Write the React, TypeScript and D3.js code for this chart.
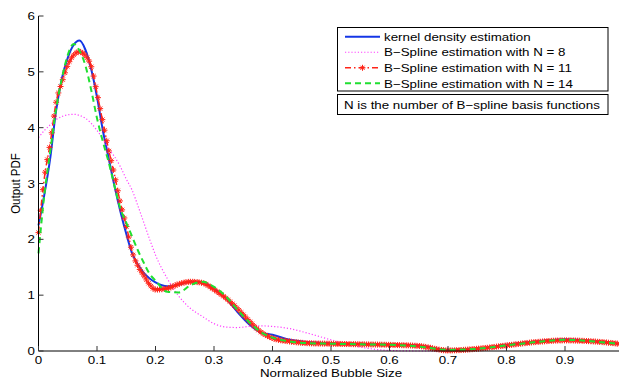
import { useEffect, useRef } from 'react';
import { select, scaleLinear, line, curveMonotoneX } from 'd3';

const xGrid = [0, 0.01, 0.02, 0.03, 0.04, 0.05, 0.06, 0.07, 0.08, 0.09, 0.1, 0.11, 0.12, 0.13, 0.14, 0.15, 0.16, 0.17, 0.18, 0.19, 0.2, 0.22, 0.24, 0.26, 0.28, 0.3, 0.32, 0.34, 0.36, 0.38, 0.4, 0.43, 0.46, 0.5, 0.55, 0.6, 0.65, 0.7, 0.75, 0.8, 0.85, 0.9, 0.95, 1.0];

const kde = [2.25, 2.8, 3.45, 4.3, 4.88, 5.25, 5.48, 5.56, 5.4, 5.05, 4.55, 3.95, 3.45, 2.95, 2.5, 2.1, 1.75, 1.55, 1.4, 1.3, 1.23, 1.16, 1.19, 1.24, 1.23, 1.12, 0.95, 0.7, 0.48, 0.33, 0.29, 0.2, 0.16, 0.14, 0.125, 0.115, 0.1, 0.02, 0.04, 0.11, 0.17, 0.21, 0.18, 0.12];
const spline8 = [3.82, 3.95, 4.05, 4.14, 4.2, 4.23, 4.24, 4.22, 4.17, 4.08, 3.95, 3.8, 3.62, 3.48, 3.3, 3.08, 2.88, 2.6, 2.3, 2.0, 1.72, 1.3, 0.98, 0.76, 0.62, 0.49, 0.43, 0.42, 0.44, 0.45, 0.44, 0.4, 0.32, 0.2, 0.07, 0.01, 0.0, 0.0, 0.03, 0.09, 0.15, 0.19, 0.16, 0.1];
const spline11 = [2.12, 3.1, 3.72, 4.45, 4.81, 5.12, 5.3, 5.36, 5.29, 5.1, 4.62, 4.1, 3.6, 3.15, 2.65, 2.25, 1.78, 1.52, 1.35, 1.19, 1.1, 1.12, 1.2, 1.24, 1.22, 1.1, 0.95, 0.76, 0.54, 0.34, 0.23, 0.17, 0.14, 0.13, 0.12, 0.11, 0.09, 0.01, 0.04, 0.1, 0.16, 0.19, 0.17, 0.12];
const spline14 = [1.75, 2.8, 3.57, 4.33, 4.88, 5.3, 5.5, 5.38, 5.12, 4.68, 4.17, 3.75, 3.38, 2.95, 2.55, 2.3, 2.05, 1.8, 1.58, 1.38, 1.26, 1.06, 1.05, 1.18, 1.24, 1.15, 0.98, 0.74, 0.52, 0.34, 0.24, 0.17, 0.14, 0.13, 0.12, 0.11, 0.08, 0.02, 0.04, 0.1, 0.16, 0.2, 0.17, 0.12];

const xTicks = [0, 0.1, 0.2, 0.3, 0.4, 0.5, 0.6, 0.7, 0.8, 0.9];
const yTicks = [0, 1, 2, 3, 4, 5, 6];
const legendLabels = [
  'kernel density estimation',
  'B\u2212Spline estimation with N = 8',
  'B\u2212Spline estimation with N = 11',
  'B\u2212Spline estimation with N = 14',
];
const noteText = 'N is the number of B\u2212spline basis functions';

const W = 619;
const H = 378;
const FONT = "'Liberation Sans', Arial, Helvetica, sans-serif";
const FS = 11.5;
const SX = 1.16; // glyphs in the reference are a bit wide

const styles = [
  { color: '#1436e6', width: 2, dash: null as string | null, marker: false },
  { color: '#ff40ff', width: 1.2, dash: '1.2 2', marker: false },
  { color: '#ff2418', width: 1.5, dash: '6 3 1.5 3', marker: true },
  { color: '#20e030', width: 2, dash: '6 4', marker: false },
];

export default function App() {
  const svgRef = useRef<SVGSVGElement>(null);

  useEffect(() => {
    if (!svgRef.current) return;
    const svg = select(svgRef.current);
    svg.selectAll('*').remove();

    const x = scaleLinear().domain([0, 1]).range([38.5, 623.5]);
    const y = scaleLinear().domain([0, 6]).range([351, 16]);

    const text = (
      g: any,
      tx: number,
      ty: number,
      s: string,
      anchor = 'start',
      rotate = false
    ) =>
      g.append('text')
        .attr('transform', rotate
          ? `translate(${tx},${ty}) rotate(-90) scale(1,${SX})`
          : `translate(${tx},${ty}) scale(${SX},1)`)
        .attr('text-anchor', anchor)
        .attr('font-family', FONT)
        .attr('font-size', FS)
        .attr('fill', '#000')
        .text(s);

    const series = [kde, spline8, spline11, spline14];
    const path = line<number>()
      .x((_, i) => x(xGrid[i]))
      .y((d) => y(d))
      .curve(curveMonotoneX);

    const plot = svg.append('g');
    series.forEach((vals, k) => {
      const st = styles[k];
      const p = plot.append('path')
        .datum(vals)
        .attr('fill', 'none')
        .attr('stroke', st.color)
        .attr('stroke-width', st.width)
        .attr('stroke-dasharray', st.dash)
        .attr('d', path);
      if (st.marker) {
        const node = p.node() as SVGPathElement;
        const total = node.getTotalLength();
        let nextX = x(0);
        const pts: [number, number][] = [];
        for (let l = 0; l <= total; l += 0.4) {
          const pt = node.getPointAtLength(l);
          if (pt.x >= nextX) {
            pts.push([pt.x, pt.y]);
            nextX += 2.2;
          }
        }
        const r = 3;
        plot.append('g')
          .selectAll('path')
          .data(pts)
          .enter()
          .append('path')
          .attr('d', (d) => `M${d[0] - r},${d[1]}h${2 * r}M${d[0]},${d[1] - r}v${2 * r}M${d[0] - r * 0.7},${d[1] - r * 0.7}l${1.4 * r},${1.4 * r}M${d[0] - r * 0.7},${d[1] + r * 0.7}l${1.4 * r},${-1.4 * r}`)
          .attr('stroke', st.color)
          .attr('stroke-width', 1)
          .attr('fill', 'none');
      }
    });

    // Axes
    const ax = svg.append('g');
    ax.append('line')
      .attr('x1', x(0)).attr('x2', x(0))
      .attr('y1', y(6)).attr('y2', y(0))
      .attr('stroke', '#000');
    ax.append('line')
      .attr('x1', x(0)).attr('x2', W)
      .attr('y1', y(0)).attr('y2', y(0))
      .attr('stroke', '#000');

    yTicks.forEach((t) => {
      ax.append('line')
        .attr('x1', x(0)).attr('x2', x(0) + 5)
        .attr('y1', y(t)).attr('y2', y(t))
        .attr('stroke', '#333');
      text(ax, x(0) - 3.5, y(t) + 4, String(t), 'end');
    });
    xTicks.forEach((t) => {
      ax.append('line')
        .attr('x1', x(t)).attr('x2', x(t))
        .attr('y1', y(0)).attr('y2', y(0) - 5)
        .attr('stroke', '#333');
      text(ax, x(t), y(0) + 13, String(t), 'middle');
    });

    text(ax, 331, 376.5, 'Normalized Bubble Size', 'middle');
    text(ax, 20, 183.5, 'Output PDF', 'middle', true);

    // Legend
    const lg = svg.append('g');
    lg.append('rect')
      .attr('x', 337.5).attr('y', 27.5)
      .attr('width', 270.5).attr('height', 63.5)
      .attr('fill', '#fff').attr('stroke', '#000');
    legendLabels.forEach((lab, i) => {
      const st = styles[i];
      const cy = 36.7 + i * 15.55;
      lg.append('line')
        .attr('x1', 345).attr('x2', 380)
        .attr('y1', cy).attr('y2', cy)
        .attr('stroke', st.color)
        .attr('stroke-width', st.width)
        .attr('stroke-dasharray', st.dash);
      if (st.marker) {
        const r = 3;
        lg.append('path')
          .attr('d', `M${362.5 - r},${cy}h${2 * r}M362.5,${cy - r}v${2 * r}M${362.5 - r * 0.7},${cy - r * 0.7}l${1.4 * r},${1.4 * r}M${362.5 - r * 0.7},${cy + r * 0.7}l${1.4 * r},${-1.4 * r}`)
          .attr('stroke', st.color)
          .attr('stroke-width', 1);
      }
      text(lg, 384, cy + 4.2, lab);
    });
    lg.append('rect')
      .attr('x', 337.5).attr('y', 94.5)
      .attr('width', 270.5).attr('height', 20)
      .attr('fill', '#fff').attr('stroke', '#000');
    text(lg, 344, 108.8, noteText);
  }, []);

  return (
    <div style={{ position: 'fixed', left: 0, top: 0, width: W, height: H, background: '#fff' }}>
      <svg ref={svgRef} width={W} height={H} style={{ display: 'block' }} />
    </div>
  );
}
